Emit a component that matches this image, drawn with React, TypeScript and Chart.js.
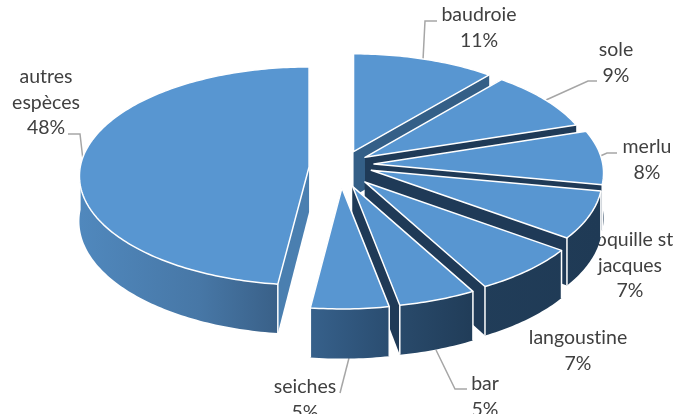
import React, { useEffect, useRef } from "react";
import { Chart, registerables } from "chart.js";

Chart.register(...registerables);

const categories = ["baudroie", "sole", "merlu", "coquille st jacques", "langoustine", "bar", "seiches", "autres espèces"];
const shares = [11, 9, 8, 7, 7, 5, 5, 48];
const labelLines = [
  ["baudroie", "11%"],
  ["sole", "9%"],
  ["merlu", "8%"],
  ["coquille st", "jacques", "7%"],
  ["langoustine", "7%"],
  ["bar", "5%"],
  ["seiches", "5%"],
  ["autres", "espèces", "48%"],
];
const labelAnchors = [
  [479, 15], [616, 50], [647, 147], [630, 240], [578, 338], [485, 384], [305, 387], [46, 77],
];
const leaders = [
  [[423, 60], [425, 21], [437, 21]],
  [[546, 100], [588, 81], [597, 81]],
  [[598, 157], [607, 153], [617, 153]],
  [],
  [],
  [[436, 350], [455, 389], [467, 389]],
  [[349, 358], [340, 393]],
  [[83, 160], [80, 134], [68, 134]],
];
const explode = [37, 29, 33, 33, 36, 34, 31, 32];
const lift = [3, 6, 6, 7, 2, 0, -2, 3];
const paintOrder = [0, 7, 1, 2, 3, 4, 5, 6];
const radialColors = ["#345f87", "#1f3a57", "#1f3a57", "#1f3a57", "#1f3a57", "#1f3a57", "#1f3a57", "#4a7fb0"];

const TOP = "#5896d1";
const K = 0.474;
const P = 0.00036;
const DEPTH = 45;
const FONT = "19.5px Lato, sans-serif";

const piePlugin = {
  id: "pie3d",
  beforeDatasetsDraw(chart: any) {
    const ctx: any = chart.ctx;
    const arcs = chart.getDatasetMeta(0).data;

    ctx.save();
    ctx.font = FONT;
    ctx.textRendering = "optimizeSpeed";
    ctx.fillStyle = "#404040";
    ctx.textAlign = "center";
    ctx.textBaseline = "middle";
    labelLines.forEach((lines, i) => {
      lines.forEach((t, j) => ctx.fillText(t, labelAnchors[i][0], labelAnchors[i][1] + j * 25.5));
    });
    ctx.strokeStyle = "#a6a6a6";
    ctx.lineWidth = 1.5;
    leaders.forEach((pts) => {
      if (!pts.length) return;
      ctx.beginPath();
      pts.forEach((p, i) => (i ? ctx.lineTo(p[0], p[1]) : ctx.moveTo(p[0], p[1])));
      ctx.stroke();
    });

    const grad = ctx.createLinearGradient(80, 0, 600, 0);
    [
      [0, "#5088bd"], [0.23, "#4777a6"], [0.375, "#3a6189"], [0.45, "#36608a"],
      [0.585, "#2b4e72"], [0.615, "#294a6b"], [0.75, "#213d59"], [1, "#1f3a55"],
    ].forEach(([o, c]) => grad.addColorStop(o as number, c as string));

    paintOrder.forEach((i) => {
      const arc = arcs[i];
      const { x: cx, y: cy, startAngle: a0, endAngle: a1, outerRadius: R } = arc;
      const mid = (a0 + a1) / 2;
      const ox = Math.cos(mid) * explode[i];
      const oy = Math.sin(mid) * explode[i];
      const project = (u: number, v: number, d = 0): [number, number] => {
        const s = 1 / (1 - P * (v + oy));
        return [cx + ox + u * s, cy - lift[i] + K * (v + oy) * s + d * s];
      };
      const n = Math.max(2, Math.ceil(((a1 - a0) * 180) / Math.PI));
      const rim: [number, number][] = [];
      const rimLow: [number, number][] = [];
      const frontHigh: [number, number][] = [];
      const frontLow: [number, number][] = [];
      for (let j = 0; j <= n; j++) {
        const a = a0 + ((a1 - a0) * j) / n;
        const top = project(R * Math.cos(a), R * Math.sin(a));
        const low = project(R * Math.cos(a), R * Math.sin(a), DEPTH);
        rim.push(top);
        rimLow.push(low);
        if (Math.sin(a) > -0.02) {
          frontHigh.push(top);
          frontLow.push(low);
        }
      }
      const tip = project(0, 0);
      const tipLow = project(0, 0, DEPTH);
      const poly = (pts: [number, number][], fill: any) => {
        ctx.beginPath();
        pts.forEach((p, k) => (k ? ctx.lineTo(p[0], p[1]) : ctx.moveTo(p[0], p[1])));
        ctx.closePath();
        ctx.fillStyle = fill;
        ctx.fill();
      };
      const edge = (p: [number, number], q: [number, number]) => {
        ctx.beginPath();
        ctx.moveTo(p[0], p[1]);
        ctx.lineTo(q[0], q[1]);
        ctx.stroke();
      };

      poly([tip, rim[0], rimLow[0], tipLow], radialColors[i]);
      poly([tip, rim[n], rimLow[n], tipLow], radialColors[i]);
      if (frontHigh.length > 1) poly([...frontHigh, ...frontLow.slice().reverse()], grad);

      ctx.strokeStyle = "#ffffff";
      ctx.lineWidth = 1.5;
      ctx.lineJoin = "round";
      if (Math.sin(a0) > 0) edge(rim[0], rimLow[0]);
      if (Math.sin(a1) > 0) edge(rim[n], rimLow[n]);

      poly([tip, ...rim], TOP);
      ctx.beginPath();
      [tip, ...rim].forEach((p, k) => (k ? ctx.lineTo(p[0], p[1]) : ctx.moveTo(p[0], p[1])));
      ctx.closePath();
      ctx.stroke();
    });
    ctx.restore();
    return false;
  },
};

export default function App() {
  const ref = useRef<HTMLCanvasElement>(null);
  useEffect(() => {
    document.body.style.margin = "0";
    const chart = new Chart(ref.current as HTMLCanvasElement, {
      type: "pie",
      data: { labels: categories, datasets: [{ data: shares, backgroundColor: TOP, borderColor: "#ffffff" }] },
      options: {
        animation: false,
        responsive: false,
        radius: 229,
        layout: { padding: { right: 9, bottom: 72 } },
        plugins: { legend: { display: false }, tooltip: { enabled: false } },
      } as any,
      plugins: [piePlugin as any],
    });
    return () => chart.destroy();
  }, []);
  return <canvas ref={ref} width={691} height={414} style={{ display: "block" }} />;
}
